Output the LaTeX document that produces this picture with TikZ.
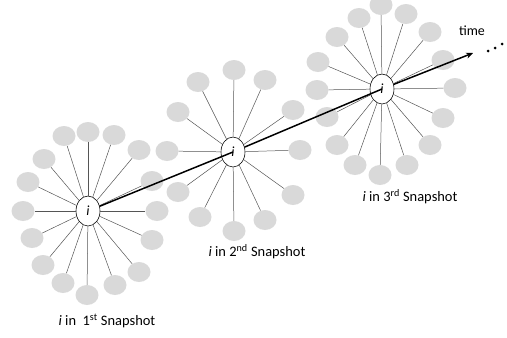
\documentclass[tikz,border=0pt]{standalone}
\usepackage{fontspec}
\setmainfont{Carlito}
\usetikzlibrary{shapes.geometric,arrows.meta}
\definecolor{satgray}{RGB}{217,217,217}
\definecolor{spokegray}{RGB}{85,85,85}
\begin{document}
\begin{tikzpicture}[x=1bp,y=-1bp,
  sat/.style={ellipse, fill=satgray, minimum width=23bp, minimum height=20bp, inner sep=0pt},
  hub/.style={ellipse, draw, fill=white, line width=0.6pt, minimum width=24bp, minimum height=30bp, inner sep=0pt, font=\itshape\fontsize{14}{16}\selectfont},
  spokeline/.style={draw=spokegray, line width=0.5pt},
  timeline/.style={line width=1.5pt},
  lbl/.style={font=\fontsize{14.5}{16}\selectfont, inner sep=0pt}]
\useasboundingbox (0,0) rectangle (507,337);

% cluster 1
\foreach \n/\x/\y in {a1/88/132, a2/114/135, a3/139/150, a4/152/181, a5/157/211, a6/152/240, a7/139/272, a8/115/285, a9/87/295, a10/63/283, a11/43/265, a12/32/238, a13/23/211, a14/28/182, a15/44/159, a16/64/136}
  \node[sat] (\n) at (\x,\y) {};
% cluster 2
\foreach \n/\x/\y in {b1/234/70, b2/265/80, b3/293/110, b4/300/150, b5/293/195, b6/265/220, b7/234/231, b8/200/217, b9/178/192, b10/167/151, b11/178/112, b12/198/82}
  \node[sat] (\n) at (\x,\y) {};
% cluster 3
\foreach \n/\x/\y in {c1/381/5, c2/406/14, c3/430/32, c4/443/60, c5/455/88, c6/443/118, c7/430/145, c8/407/165, c9/380/175, c10/355/165, c11/337/145, c12/327/117, c13/317/90, c14/318/62, c15/337/37, c16/359/18}
  \node[sat] (\n) at (\x,\y) {};

\node[hub] (h1) at (88,211) {i};
\node[hub] (h2) at (233,152) {i};
\node[hub] (h3) at (382,89) {i};

\foreach \n in {a1,a2,a3,a4,a5,a6,a7,a8,a9,a10,a11,a12,a13,a14,a15,a16}
  \draw[spokeline] (h1) -- (\n);
\foreach \n in {b1,b2,b3,b4,b5,b6,b7,b8,b9,b10,b11,b12}
  \draw[spokeline] (h2) -- (\n);
\foreach \n in {c1,c2,c3,c4,c5,c6,c7,c8,c9,c10,c11,c12,c13,c14,c15,c16}
  \draw[spokeline] (h3) -- (\n);

\coordinate (tip) at (473,53);
\draw[timeline] (h1) -- (h2.center);
\draw[timeline] (h2) -- (h3.center);
\draw[timeline, -{Stealth[length=7pt,width=6pt]}] (h3) -- (tip);

\node[font=\fontsize{14}{16}\selectfont] (time) at (472,31) {time};
\foreach \n/\x/\y in {d1/488/51, d2/495/48, d3/502/44}
  \fill (\x,\y) circle (1.5bp) coordinate (\n);

\node[lbl] (l1) at (107,321) {\textit{i} in\ \ 1\textsuperscript{st} Snapshot};
\node[lbl] (l2) at (257,252) {\textit{i} in 2\textsuperscript{nd} Snapshot};
\node[lbl] (l3) at (410,197) {\textit{i} in 3\textsuperscript{rd} Snapshot};
\end{tikzpicture}
\end{document}
